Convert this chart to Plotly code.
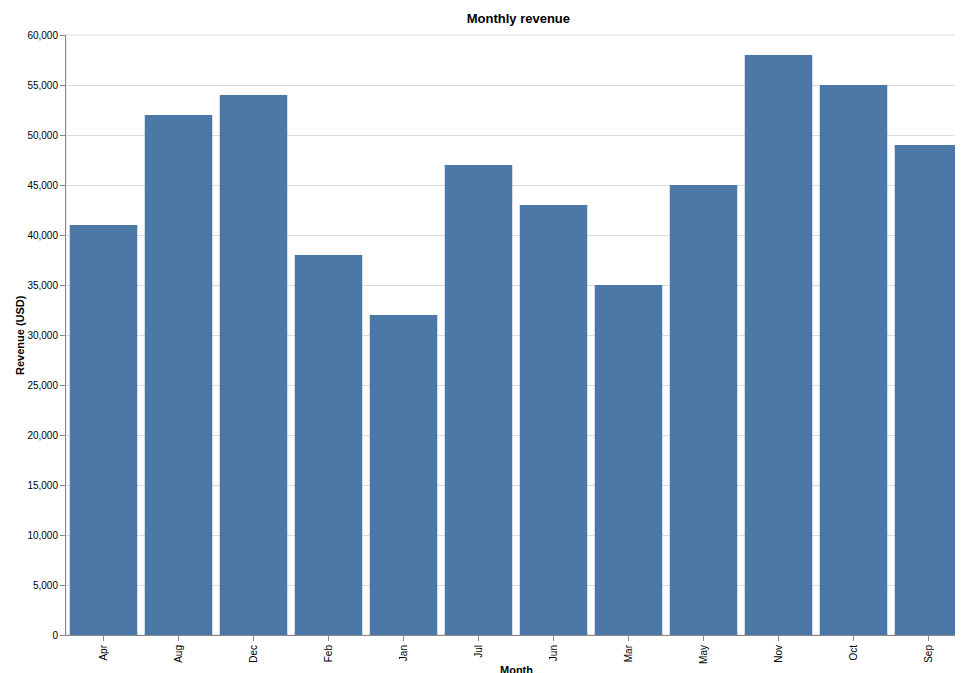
import plotly.graph_objects as go

months = ["Apr", "Aug", "Dec", "Feb", "Jan", "Jul", "Jun", "Mar", "May", "Nov", "Oct", "Sep"]
revenue = [41000, 52000, 54000, 38000, 32000, 47000, 43000, 35000, 45000, 58000, 55000, 49000]

fig = go.Figure(go.Bar(x=months, y=revenue, marker=dict(color="#4c78a8", line=dict(width=0))))

fig.update_layout(
    width=963, height=673,
    margin=dict(l=58, r=5, t=27, b=46, autoexpand=False),
    plot_bgcolor="white", paper_bgcolor="white",
    font=dict(family="Liberation Sans, Arial", size=10, color="#000"),
    bargap=0.1,
    showlegend=False,
    title=dict(text="<b>Monthly revenue</b>", x=0.53, xanchor="center", yref="container",
               y=1 - 10 / 673, yanchor="middle", font=dict(size=13)),
)
fig.update_xaxes(
    automargin=False,
    tickangle=-90, showline=True, linecolor="#888", ticks="outside", tickcolor="#888", ticklen=5,
    showgrid=False,
)
fig.update_yaxes(
    automargin=False,
    range=[0, 60000], dtick=5000, tickformat=",", showline=True, linecolor="#888",
    ticks="outside", tickcolor="#888", ticklen=5, gridcolor="#ddd", zeroline=False,
)
fig.add_shape(type="rect", xref="paper", yref="paper", x0=0, x1=1, y0=0, y1=1,
              line=dict(color="#ddd", width=1), layer="below")
fig.add_annotation(text="<b>Month</b>", xref="paper", yref="paper", x=0.5, y=-35 / 600,
                   yanchor="middle", showarrow=False, font=dict(size=11))
fig.add_annotation(text="<b>Revenue (USD)</b>", xref="paper", yref="paper", x=-46 / 900, y=0.5,
                   xanchor="center", textangle=-90, showarrow=False, font=dict(size=11))

fig.write_html("out.html")
